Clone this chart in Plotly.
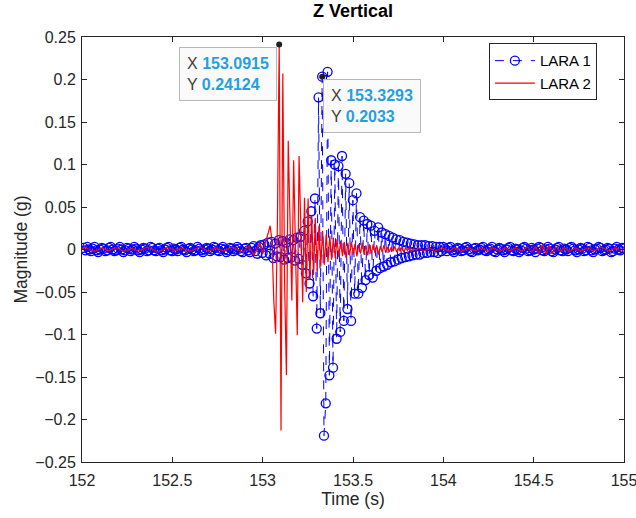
import plotly.graph_objects as go

# ---------------- data ----------------
SAMPLE_RATE_HZ = 100.0
LARA1_START_S = 152.0093
LARA2_START_S = 152.0015

# LARA 1 vertical acceleration, milli-g, one value per sample
lara1_mg = [
    2, -1, 3, 0, -2, 1, 3, -1, -3, 0, 2, 1, -2, -1, 2, 3, 0, -2, -1, 1,
    3, 0, -3, -1, 2, 1, -2, 0, 3, 1, -1, -3, 0, 2, 1, -2, -1, 3, 2, -1,
    -2, 1, 2, -1, -3, 0, 2, 3, -1, -2, 1, 0, -2, 2, 3, 0, -1, -3, 1, 2,
    0, -2, -1, 3, 1, -1, -3, 0, 2, 1, -2, 0, 3, 2, -1, -2, 1, 3, 0, -3,
    -1, 2, 1, -2, 0, 3, 1, -2, -3, 1, 2, -1, -3, 2, 4, -2, -5, 3, 5, -4,
    6, -7, 8, -5, 9, -10, 7, -8, 11, -9, 10, -12, 8, -10, 12, -9, 11, -13, 14, -11,
    15, -18, 22, -28, 33, -40, 45, -55, 60, -93,
    179, -75, 203.3, -219, -181, 209, -148, 105, -139, 100,
    -105, 98, -97, 110, -84, 89, -70, 78, -84, 58,
    -52, 66, -52, 38, -45, 34, -36, 30, -30, 28,
    -33, 22, -25, 26, -22, 20, -20, 18, -18, 16,
    -15, 14, -14, 12, -12, 11, -10, 9, -9, 8,
    -8, 7, -7, 6, -6, 5, -6, 5, -4, 5,
    -4, 4, -3, 4, -3, 3, -4, 3, -2, 3,
    1, -2, 2, 3, -1, -3, 0, 2, 1, -2, -1, 2, 3, 0, -2, -3, 1, 2, -1, 0,
    2, 3, -1, -2, 0, 1, 3, -2, -3, 0, 2, 1, -1, -3, 0, 2, 3, -1, -2, 1,
    0, -3, -1, 2, 3, 1, -2, -1, 2, 0, -3, 1, 3, 2, -1, -2, 0, 3, 1, -2,
    -3, 0, 2, 3, -1, -2, 1, 0, -2, 2, 3, 1, -1, -3, 0, 2, 1, -2, -1, 3,
    2, -1, -3, 0, 1, 3, 2, -2, -1, 0, 2, 1, -3, -2, 1, 3, 0, -1, 2, 1,
]

# LARA 2 vertical acceleration, milli-g, one value per sample
lara2_mg = [
    1, 2, 2, 1, 0, -1, -2, -2, -1, 0, 1, 2, 1, 0, -1, -1, 0, 1, 2, 2,
    1, 0, -1, -2, -2, -1, 0, 1, 1, 0, -1, -2, -1, 0, 1, 2, 3, 2, 1, 0,
    -1, -2, -3, -2, -1, 0, 1, 2, 2, 1, 0, -1, -1, 0, 1, 2, 1, 0, -1, -2,
    -2, -1, 0, 1, 2, 3, 2, 1, 0, -1, -2, -1, 0, 1, 2, 1, 0, -1, -2, -1,
    0, 1, 2, 3, 2, 1, 0, -1, -2, -3, -1, 2, 4, 1, -4, -7, -3, 4, 8, 3,
    -5, 6, 12, 20, 28, 10, -60, -99, 30, 241.24,
    -213, 207, -40, -148, 128, 20, -60, 105, -20, -101,
    110, 5, -62, 61, -50, 60, -35, 40, -30, 35,
    -25, 28, -20, 22, -18, 18, -15, 16, -12, 14,
    -10, 12, -9, 10, -8, 9, -10, 8, -7, 9,
    -6, 7, -8, 6, -5, 8, -6, 5, -7, 6,
    -5, 6, -4, 5, -6, 4, -3, 5, -4, 3,
    -3, 3, -2, 4, -3, 2, -2, 3, -3, 2,
    -1, 2, -2, 1, 0, -1, 2, 1, -1, -2,
    -1, 1, 2, 1, -1, -2, -1, 0, 1, 2,
    1, 0, -1, -2, -1, 1, 2, 1, 0, -1,
    -2, -1, 0, 1, 2, 1, 0, -1, -1, 0,
    1, 2, 1, -1, -2, -1, 1, 2, 1, 0,
    -1, -2, -1, 1, 2, 1, -1, -1, 0, 1,
    2, 1, -1, -2, -1, 1, 3, 2, -2, -3,
    1, 4, -2, -4, 3, 5, -3, -5, 4, 3,
    -4, -2, 3, 2, -1, -2, 1, 2, 0, -1,
    -2, -1, 1, 2, 1, -1, -2, -1, 0, 1,
    2, 1, -1, -2, -1, 1, 2, 3, 2, 1,
    0, -1, -2, -1, 1, 2, 1, 0, -1, 0,
]

SERIES_NAMES = ["LARA 1", "LARA 2"]
# samples picked by the two data tips in the reference
LARA1_TIP_INDEX = 132
LARA2_TIP_INDEX = 109
X_TICKS = [152, 152.5, 153, 153.5, 154, 154.5, 155]
X_TICK_LABELS = ["152", "152.5", "153", "153.5", "154", "154.5", "155"]
Y_TICKS = [-0.25, -0.2, -0.15, -0.1, -0.05, 0, 0.05, 0.1, 0.15, 0.2, 0.25]
Y_TICK_LABELS = ["\u22120.25", "\u22120.2", "\u22120.15", "\u22120.1", "\u22120.05",
                 "0", "0.05", "0.1", "0.15", "0.2", "0.25"]

# ---------------- derived ----------------
lara1_t = [round(LARA1_START_S + i / SAMPLE_RATE_HZ, 4) for i in range(len(lara1_mg))]
lara2_t = [round(LARA2_START_S + i / SAMPLE_RATE_HZ, 4) for i in range(len(lara2_mg))]
lara1_g = [v / 1000.0 for v in lara1_mg]
lara2_g = [v / 1000.0 for v in lara2_mg]

i1 = LARA1_TIP_INDEX
i2 = LARA2_TIP_INDEX

FONT = "Liberation Sans, Arial, Helvetica, sans-serif"
AX = "#262626"
TIPBLUE = "#1FA0E3"

fig = go.Figure()
fig.add_trace(go.Scatter(
    x=lara1_t, y=lara1_g, name=SERIES_NAMES[0], mode="lines+markers",
    line=dict(color="#0000FF", width=1, dash="dash"),
    marker=dict(symbol="circle-open", size=9, color="#0000FF", line=dict(width=1.3, color="#0000FF")),
))
fig.add_trace(go.Scatter(
    x=lara2_t, y=lara2_g, name=SERIES_NAMES[1], mode="lines",
    line=dict(color="#FF0000", width=1.2),
))
fig.add_trace(go.Scatter(
    x=[lara2_t[i2], lara1_t[i1]], y=[lara2_g[i2], lara1_g[i1]], mode="markers",
    marker=dict(color="#202020", size=6), showlegend=False, hoverinfo="skip",
))


def tip_text(t, y):
    return (f"X <b><span style='color:{TIPBLUE}'>{t:.4f}</span></b><br>"
            f"Y <b><span style='color:{TIPBLUE}'>{y:.5g}</span></b>")


tip_common = dict(xref="x", yref="y", showarrow=False, align="left",
                  font=dict(family=FONT, size=16, color="#404040"),
                  bgcolor="rgba(250,250,250,0.97)", bordercolor="#B8B8B8",
                  borderwidth=1, borderpad=7, yanchor="top")
fig.add_annotation(x=lara2_t[i2], y=lara2_g[i2], text=tip_text(lara2_t[i2], lara2_g[i2]),
                   xanchor="right", xshift=-2, yshift=-3, **tip_common)
fig.add_annotation(x=lara1_t[i1], y=lara1_g[i1], text=tip_text(lara1_t[i1], lara1_g[i1]),
                   xanchor="left", xshift=1, yshift=-2, **tip_common)

axis_common = dict(showline=True, linecolor=AX, linewidth=1, mirror="ticks",
                   ticks="inside", ticklen=5, tickcolor=AX, showgrid=False,
                   zeroline=False, automargin=False, ticklabeloverflow="allow",
                   tickfont=dict(family=FONT, size=16, color=AX))
fig.update_xaxes(range=[152, 155], tickvals=X_TICKS, ticktext=X_TICK_LABELS,
                 ticklabelstandoff=4,
                 title=dict(text="Time (s)", font=dict(family=FONT, size=17.5, color=AX), standoff=2),
                 **axis_common)
fig.update_yaxes(range=[-0.25, 0.25], tickvals=Y_TICKS, ticktext=Y_TICK_LABELS,
                 ticklabelstandoff=2,
                 title=dict(text="Magnitude (g)", font=dict(family=FONT, size=17.5, color=AX), standoff=3),
                 **axis_common)

fig.update_layout(
    width=636, height=518,
    margin=dict(l=82, r=12, t=37, b=56, autoexpand=False),
    paper_bgcolor="white", plot_bgcolor="white",
    title=dict(text="<b>Z Vertical</b>", x=353 / 636, xanchor="center",
               y=1 - 11 / 518, yanchor="middle",
               font=dict(family=FONT, size=18, color="#000000")),
    legend=dict(x=0.95, y=0.985, xanchor="right", yanchor="top",
                bgcolor="white", bordercolor=AX, borderwidth=1,
                font=dict(family=FONT, size=15, color="#000000"),
                tracegroupgap=0, itemwidth=40),
    showlegend=True,
)

fig.write_html(
    "out.html",
    config={"displayModeBar": False},
    post_script="document.body.style.margin='0';document.body.style.overflow='hidden';",
)
